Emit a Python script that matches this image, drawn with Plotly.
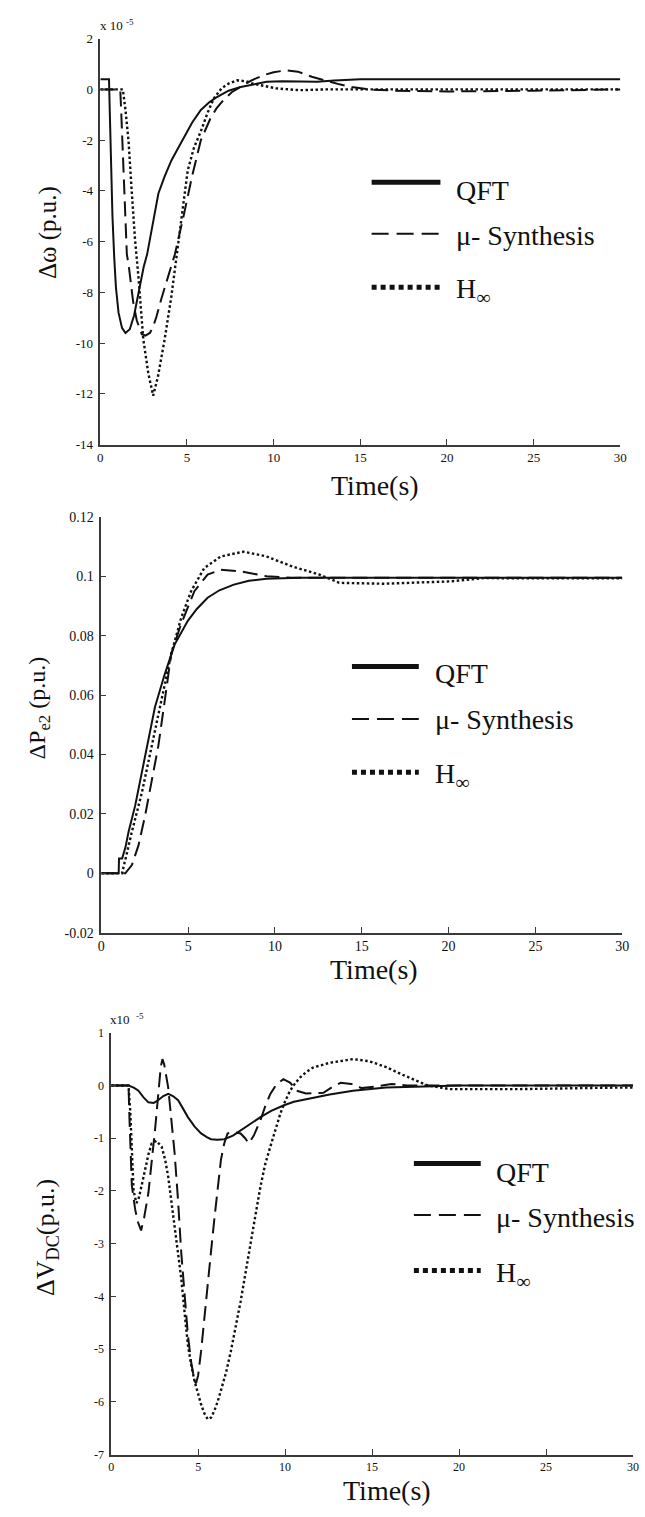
import plotly.graph_objects as go

W, H = 645, 1517

# ---------------- data ----------------
# Panel 1: delta omega (x 1e-5 p.u.)
t_w_qft = [0, 0.5, 0.55, 0.62, 0.7, 0.8, 0.9, 1.05, 1.25, 1.45, 1.7, 1.95, 2.2, 2.5, 2.7, 3.0, 3.35, 3.7, 4.1, 4.5,
           4.85, 5.3, 5.8, 6.3, 6.75, 7.4, 8.1, 9.0, 9.6, 10.5, 11.5, 12.5, 13.5, 15, 20, 25, 30]
w_qft = [0.4, 0.4, -1.0, -3.0, -5.0, -6.6, -7.8, -8.8, -9.4, -9.6, -9.45, -8.9, -8.0, -7.0, -6.5, -5.4, -4.1, -3.45,
         -2.8, -2.3, -1.85, -1.3, -0.81, -0.5, -0.29, -0.05, 0.1, 0.22, 0.3, 0.32, 0.3, 0.3, 0.35, 0.4, 0.4, 0.4, 0.4]
t_w_mu = [0, 1.15, 1.2, 1.3, 1.4, 1.53, 1.63, 1.75, 1.9, 2.1, 2.39, 2.6, 2.86, 3.05, 3.24, 3.5, 3.8, 4.3, 4.8, 5.3,
          5.8, 6.36, 6.7, 7.1, 7.6, 8.07, 8.7, 9.4, 10.0, 10.7, 11.4, 12.2, 13.0, 13.8, 14.5, 15.5, 17, 20, 25, 30]
w_mu = [0, 0, -0.8, -2.5, -4.5, -6.5, -6.9, -7.6, -8.4, -9.1, -9.65, -9.7, -9.6, -9.35, -8.95, -8.3, -7.6, -6.5, -5.0,
        -3.4, -2.0, -1.13, -0.75, -0.42, -0.1, 0.1, 0.35, 0.56, 0.68, 0.75, 0.7, 0.5, 0.35, 0.2, 0.1, 0.0, -0.05,
        -0.08, -0.05, 0.0]
t_w_hinf = [0, 1.3, 1.45, 1.63, 1.8, 2.0, 2.2, 2.48, 2.77, 3.05, 3.33, 3.71, 4.09, 4.38, 4.7, 5.04, 5.4, 5.8, 6.2,
            6.55, 7.0, 7.4, 7.9, 8.4, 8.8, 9.5, 10.15, 11.5, 13, 15, 20, 25, 30]
w_hinf = [0, 0, -0.8, -2.05, -3.9, -5.9, -7.4, -9.85, -11.2, -12.07, -11.3, -9.85, -8.2, -6.6, -4.9, -3.2, -2.3,
          -1.65, -0.9, -0.35, 0.05, 0.23, 0.36, 0.32, 0.23, 0.12, 0.04, -0.03, 0, 0, 0, 0, 0]

# Panel 2: delta Pe2 (p.u.)
t_p_qft = [0, 1.0, 1.02, 1.2, 1.4, 1.57, 1.95, 2.33, 2.71, 3.09, 3.65, 4.22, 4.98, 5.5, 6.12, 6.8, 7.63, 8.5, 9.5,
           11.4, 15, 20, 30]
p_qft = [0, 0, 0.005, 0.005, 0.009, 0.014, 0.0228, 0.034, 0.045, 0.056, 0.067, 0.077, 0.085, 0.089, 0.0928, 0.0953,
         0.0972, 0.0985, 0.0992, 0.0995, 0.0995, 0.0995, 0.0995]
t_p_mu = [0, 1.38, 1.76, 2.14, 2.52, 2.9, 3.28, 3.65, 4.03, 4.6, 5.36, 6.12, 6.88, 8.0, 9.53, 11, 15, 20, 30]
p_mu = [0, 0, 0.0028, 0.0094, 0.0194, 0.0306, 0.0428, 0.058, 0.074, 0.084, 0.095, 0.1006, 0.1022, 0.1017, 0.1,
        0.0995, 0.0995, 0.0995, 0.0995]
t_p_hinf = [0, 1.19, 1.4, 1.76, 2.33, 2.9, 3.47, 4.03, 4.6, 5.17, 5.93, 6.88, 8.2, 9.5, 11.0, 12.56, 13.7, 16.3,
            20.1, 22, 25, 30]
p_hinf = [0, 0, 0.005, 0.014, 0.027, 0.043, 0.058, 0.074, 0.086, 0.095, 0.1028, 0.1067, 0.1083, 0.1067, 0.1033,
          0.1006, 0.0978, 0.0975, 0.0983, 0.0994, 0.0993, 0.0993]

# Panel 3: delta VDC (x 1e-5 p.u.)
t_v_qft = [0, 1.0, 1.3, 1.57, 1.85, 2.14, 2.45, 2.7, 3.0, 3.28, 3.55, 3.85, 4.1, 4.41, 4.8, 5.17, 5.5, 5.74, 6.1,
           6.5, 7.0, 7.44, 8.0, 8.58, 9.2, 9.9, 10.5, 11.23, 12.56, 13.9, 15.8, 18, 20, 25, 30]
v_qft = [0, 0, -0.04, -0.1, -0.22, -0.32, -0.33, -0.28, -0.2, -0.16, -0.2, -0.28, -0.42, -0.6, -0.78, -0.91, -0.98,
         -1.02, -1.03, -1.02, -0.95, -0.85, -0.73, -0.6, -0.48, -0.38, -0.31, -0.26, -0.17, -0.1, -0.04, -0.02, 0, 0, 0]
t_v_mu = [0, 1.0, 1.05, 1.19, 1.38, 1.55, 1.72, 1.9, 2.14, 2.33, 2.52, 2.7, 2.85, 2.95, 3.05, 3.28, 3.45, 3.65, 3.85,
          4.03, 4.22, 4.41, 4.6, 4.79, 4.88, 5.0, 5.17, 5.36, 5.55, 5.74, 5.93, 6.12, 6.31, 6.5, 6.69, 7.0, 7.44, 7.7,
          7.91, 8.2, 8.58, 8.85, 9.15, 9.5, 9.9, 10.3, 10.66, 11.2, 12.2, 12.75, 13.2, 13.8, 14.4, 15.2, 16.1, 17, 20,
          25, 30]
v_mu = [0, 0, -0.6, -1.9, -2.35, -2.6, -2.75, -2.5, -2.04, -1.5, -0.85, -0.2, 0.35, 0.5, 0.4, -0.04, -0.6, -1.29,
        -2.2, -3.17, -3.95, -4.73, -5.25, -5.6, -5.65, -5.5, -5.04, -4.45, -3.79, -3.15, -2.54, -1.95, -1.41, -1.1,
        -0.91, -0.88, -0.91, -1.0, -1.1, -0.95, -0.66, -0.4, -0.16, 0.02, 0.12, 0.05, -0.1, -0.15, -0.14, -0.02, 0.05,
        0.03, -0.05, -0.02, 0.03, 0, 0, 0, 0]
t_v_hinf = [0, 1.0, 1.1, 1.2, 1.29, 1.45, 1.57, 1.75, 1.95, 2.15, 2.33, 2.6, 2.9, 3.1, 3.28, 3.45, 3.65, 3.85, 4.03,
            4.22, 4.41, 4.6, 4.79, 5.0, 5.17, 5.36, 5.55, 5.74, 5.93, 6.12, 6.31, 6.6, 6.88, 7.15, 7.44, 7.7, 8.01,
            8.3, 8.58, 8.85, 9.15, 9.45, 9.72, 10.0, 10.28, 10.55, 10.85, 11.2, 11.6, 12.56, 13.9, 14.83, 15.8, 16.7,
            17.5, 18.2, 19.5, 23.3, 29, 30]
v_hinf = [0, 0, -0.5, -1.3, -2.0, -2.23, -2.16, -1.9, -1.6, -1.3, -1.1, -1.05, -1.16, -1.4, -1.73, -2.15, -2.67,
          -3.15, -3.66, -4.3, -4.92, -5.3, -5.6, -5.85, -6.05, -6.22, -6.33, -6.3, -6.17, -6.0, -5.8, -5.45, -5.04,
          -4.6, -4.1, -3.6, -3.04, -2.45, -1.92, -1.5, -1.16, -0.82, -0.54, -0.3, -0.1, 0.03, 0.15, 0.25, 0.34, 0.43,
          0.5, 0.46, 0.35, 0.21, 0.1, 0.0, -0.07, -0.07, -0.04, -0.04]

series_names = ["QFT", "μ- Synthesis", "H<sub>∞</sub>"]

# ticks
t_ticks = [0, 5, 10, 15, 20, 25, 30]
t_ticktext = ["0", "5", "10", "15", "20", "25", "30"]
w_ticks = [-14, -12, -10, -8, -6, -4, -2, 0, 2]
w_ticktext = ["-14", "-12", "-10", "-8", "-6", "-4", "-2", "0", "2"]
p_ticks = [-0.02, 0, 0.02, 0.04, 0.06, 0.08, 0.1, 0.12]
p_ticktext = ["-0.02", "0", "0.02", "0.04", "0.06", "0.08", "0.1", "0.12"]
v_ticks = [-7, -6, -5, -4, -3, -2, -1, 0, 1]
v_ticktext = ["-7", "-6", "-5", "-4", "-3", "-2", "-1", "0", "1"]

# ---------------- figure ----------------
SERIF = "Liberation Serif"
INK = "#111111"
AX = "#3a3a3a"

styles = [
    dict(color=INK, width=2.0),
    dict(color=INK, width=2.0, dash="15px,7px"),
    dict(color=INK, width=2.4, dash="2.5px,2.5px"),
]

fig = go.Figure()


def add_panel(ax_idx, data):
    xa = "x" if ax_idx == 1 else f"x{ax_idx}"
    ya = "y" if ax_idx == 1 else f"y{ax_idx}"
    for (t, y), st, nm in zip(data, styles, series_names):
        fig.add_trace(go.Scatter(x=t, y=y, mode="lines", line=st, name=nm,
                                 xaxis=xa, yaxis=ya, showlegend=False, hoverinfo="skip"))


add_panel(1, [(t_w_qft, w_qft), (t_w_mu, w_mu), (t_w_hinf, w_hinf)])
add_panel(2, [(t_p_qft, p_qft), (t_p_mu, p_mu), (t_p_hinf, p_hinf)])
add_panel(3, [(t_v_qft, v_qft), (t_v_mu, v_mu), (t_v_hinf, v_hinf)])


def px_x(p):
    return p / W


def px_y(p):
    return 1 - p / H


def xaxis(dom, fs, anchor):
    return dict(domain=[px_x(dom[0]), px_x(dom[1])], range=[0, 30], anchor=anchor,
                tickvals=t_ticks, ticktext=t_ticktext, ticks="inside", ticklen=6, tickwidth=1.3,
                tickcolor=AX, showline=True, linecolor=AX, linewidth=1.5, showgrid=False,
                zeroline=False, tickfont=dict(family=SERIF, size=fs, color=INK), fixedrange=True)


def yaxis(dom, rng, vals, txt, fs, anchor):
    return dict(domain=[px_y(dom[1]), px_y(dom[0])], range=rng, anchor=anchor,
                tickvals=vals, ticktext=txt, ticks="inside", ticklen=5, tickwidth=1.3,
                tickcolor=AX, showline=True, linecolor=AX, linewidth=1.5, showgrid=False,
                zeroline=False, tickfont=dict(family=SERIF, size=fs, color=INK),
                ticklabelstandoff=3, fixedrange=True)


fig.update_layout(
    width=W, height=H,
    margin=dict(l=0, r=0, t=0, b=0),
    paper_bgcolor="white", plot_bgcolor="white",
    showlegend=False,
    xaxis=xaxis((98, 627), 13, "y"),
    yaxis=yaxis((32, 442), [-14, 2], w_ticks, w_ticktext, 13, "x"),
    xaxis2=xaxis((99, 629), 14, "y2"),
    yaxis2=yaxis((515, 935), [-0.02, 0.12], p_ticks, p_ticktext, 14, "x2"),
    xaxis3=xaxis((109, 640), 12, "y3"),
    yaxis3=yaxis((1036, 1462), [-7, 1], v_ticks, v_ticktext, 12, "x3"),
)

annotations = []
shapes = []


def text(xp, yp, s, size, xanchor="center", yanchor="middle", angle=0):
    annotations.append(dict(x=px_x(xp), y=px_y(yp), xref="paper", yref="paper", text=s,
                            showarrow=False, xanchor=xanchor, yanchor=yanchor, textangle=angle,
                            font=dict(family=SERIF, size=size, color=INK)))


# axis titles
text(377, 483, "Time(s)", 28)
text(376, 972, "Time(s)", 28)
text(390, 1498, "Time(s)", 28)
text(44, 228, "Δω (p.u.)", 25, angle=-90)
text(36, 708, "ΔP<sub>e2</sub> (p.u.)", 24, angle=-90)
text(43, 1243, "ΔV<sub>DC</sub>(p.u.)", 26, angle=-90)

# exponent labels
text(96, 18, "x 10 <sup>-5</sup>", 13, xanchor="left")
text(106, 1022, "x10  <sup>-5</sup>", 13, xanchor="left")

# legends
legend_specs = [
    (374, 444, 458, [177, 229, 283], [185, 231, 286]),
    (354, 422, 436, [666, 719, 773], [673, 720, 776]),
    (417, 485, 499, [1168, 1220, 1276], [1177, 1223, 1280]),
]
legend_styles = [
    dict(color=INK, width=5),
    dict(color=INK, width=2, dash="17px,8px"),
    dict(color=INK, width=5, dash="5px,4px"),
]
for x0, x1, xt, ly, ty in legend_specs:
    for yy, tyy, st, nm in zip(ly, ty, legend_styles, series_names):
        shapes.append(dict(type="line", xref="paper", yref="paper",
                           x0=px_x(x0), x1=px_x(x1), y0=px_y(yy), y1=px_y(yy), line=st))
        text(xt, tyy, nm, 28, xanchor="left")

fig.update_layout(annotations=annotations, shapes=shapes)

fig.write_html("out.html",
               config={"displayModeBar": False},
               post_script="document.body.style.margin='0';document.body.style.padding='0';"
                           "document.documentElement.style.overflow='hidden';")
